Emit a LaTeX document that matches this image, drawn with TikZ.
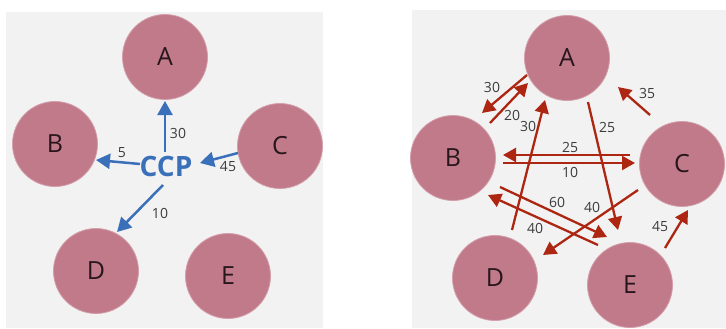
\documentclass[tikz,border=0pt]{standalone}
\usepackage{fontspec}
\setmainfont{Open Sans}
\usetikzlibrary{arrows.meta,calc}

\definecolor{panelbg}{RGB}{242,242,242}
\definecolor{nodefill}{RGB}{192,122,138}
\definecolor{nodeedge}{RGB}{212,158,170}
\definecolor{flowred}{RGB}{172,38,18}
\definecolor{flowblue}{RGB}{58,112,186}
\definecolor{numgray}{RGB}{60,60,60}
\definecolor{lettercol}{RGB}{40,22,28}

\tikzset{
  party/.style={circle, fill=nodefill, draw=nodeedge, line width=0.8pt,
    minimum size=85pt, inner sep=0pt, font=\fontsize{25}{25}\selectfont, text=lettercol},
  redflow/.style={draw=flowred, line width=2.3pt,
    -{Triangle[length=13pt,width=14pt]}},
  blueflow/.style={draw=flowblue, line width=2.5pt,
    -{Triangle[length=14pt,width=15pt]}},
  amount/.style={font=\fontsize{14}{14}\selectfont, text=numgray, inner sep=0pt}
}

\begin{document}
\begin{tikzpicture}[x=1pt,y=-1pt]
\useasboundingbox (0,0) rectangle (726,329);

% panel backgrounds
\fill[panelbg] (6,12) rectangle (323,328);
\fill[panelbg] (412,10) rectangle (726,328);

% ---------- central clearing (left) ----------
\node[party] (lA) at (165,57)  {A};
\node[party] (lB) at (55,144)  {B};
\node[party] (lC) at (280,146) {C};
\node[party] (lD) at (96,271)  {D};
\node[party] (lE) at (228,276) {E};
\node[font=\fontsize{28}{28}\selectfont\bfseries, text=flowblue, inner sep=0pt] (ccp) at (166,166) {CCP};

\draw[blueflow] ($(ccp)+(-1,-14)$) -- ($(lA)+(0,44)$);
\draw[blueflow] ($(ccp)+(-26,-2)$) -- ($(lB)+(41,16)$);
\draw[blueflow] ($(lC)+(-42,7)$)   -- ($(ccp)+(34,-3)$);
\draw[blueflow] ($(ccp)+(-3,19)$)  -- ($(lD)+(21,-39)$);

\node[amount] (l30) at (178,133) {30};
\node[amount] (l5)  at (122,153) {5};
\node[amount] (l45) at (228,167) {45};
\node[amount] (l10) at (160,213) {10};

% ---------- bilateral flows (right) ----------
\node[party] (rA) at (567,58)  {A};
\node[party] (rB) at (453,158) {B};
\node[party] (rC) at (682,164) {C};
\node[party] (rD) at (495,278) {D};
\node[party] (rE) at (630,285) {E};

\draw[redflow] ($(rA)+(-40,17)$) -- ($(rB)+(29,-45)$);
\draw[redflow] ($(rB)+(37,-35)$) -- ($(rA)+(-39,25)$);
\draw[redflow] ($(rD)+(17,-48)$) -- ($(rA)+(-22,42)$);
\draw[redflow] ($(rA)+(21,44)$)  -- ($(rE)+(-12,-55)$);
\draw[redflow] ($(rC)+(-32,-49)$) -- ($(rA)+(51,29)$);
\draw[redflow] ($(rC)+(-52,-9)$) -- ($(rB)+(50,-3)$);
\draw[redflow] ($(rB)+(50,5)$)   -- ($(rC)+(-47,-1)$);
\draw[redflow] ($(rB)+(47,29)$)  -- ($(rE)+(-23,-48)$);
\draw[redflow] ($(rE)+(-32,-40)$) -- ($(rB)+(35,37)$);
\draw[redflow] ($(rC)+(-44,26)$) -- ($(rD)+(48,-23)$);
\draw[redflow] ($(rE)+(35,-37)$) -- ($(rC)+(6,46)$);

\node[amount] (rAB) at (492,87)  {30};
\node[amount] (rBA) at (512,115) {20};
\node[amount] (rDA) at (528,126) {30};
\node[amount] (rAE) at (607,127) {25};
\node[amount] (rCA) at (647,93)  {35};
\node[amount] (rCB) at (570,147) {25};
\node[amount] (rBC) at (570,172) {10};
\node[amount] (rBE) at (557,202) {60};
\node[amount] (rEB) at (535,228) {40};
\node[amount] (rCD) at (592,207) {40};
\node[amount] (rEC) at (660,227) {45};
\end{tikzpicture}
\end{document}
